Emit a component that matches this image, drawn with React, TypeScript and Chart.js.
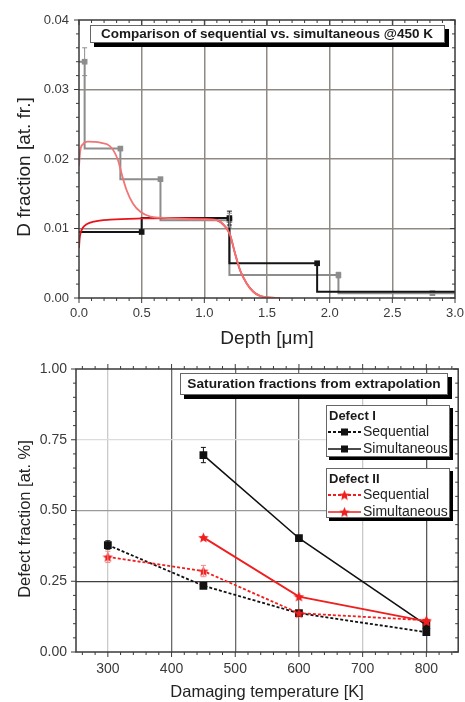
import React, { useEffect, useRef } from "react";
import { Chart, registerables } from "chart.js";
Chart.register(...registerables);

const FONT = "'Liberation Sans', Arial, Helvetica, sans-serif";
Chart.defaults.font.family = FONT;

// ---------- Top chart: D depth profiles @450 K ----------
const seqStepDepth = [0, 0.045, 0.33, 0.65, 1.2, 2.07, 2.82, 3.0];
const seqStepFrac = [0.034, 0.034, 0.0215, 0.0171, 0.0112, 0.0033, 0.0007, 0.0007];
const seqStepErr = [0, 0.002, 0, 0, 0.001, 0.0004, 0, 0];

const simStepDepth = [0, 0.5, 1.2, 1.9, 3.0];
const simStepFrac = [0.0095, 0.0095, 0.0115, 0.005, 0.0009];
const simStepErr = [0, 0, 0.001, 0, 0];

const seqFitDepth = [0, 0.01, 0.03, 0.07, 0.17, 0.25, 0.31, 0.34, 0.38, 0.43, 0.49, 0.57, 0.65, 0.8, 1.0, 1.1, 1.165, 1.205, 1.245, 1.285, 1.338, 1.391, 1.444, 1.5, 1.6];
const seqFitFrac = [0.019, 0.0212, 0.0221, 0.0225, 0.02235, 0.0218, 0.0199, 0.0179, 0.0155, 0.0136, 0.0124, 0.0117, 0.01155, 0.0114, 0.0113, 0.0112, 0.0103, 0.0091, 0.0064, 0.004, 0.0021, 0.0009, 0.0003, 0.0001, 0];

const simFitDepth = [0, 0.005, 0.015, 0.03, 0.06, 0.12, 0.25, 0.5, 0.8, 1.0, 1.1, 1.165, 1.205, 1.245, 1.285, 1.338, 1.391, 1.444, 1.5, 1.6];
const simFitFrac = [0.0072, 0.0085, 0.0095, 0.0101, 0.0106, 0.011, 0.01128, 0.01145, 0.0115, 0.0114, 0.0112, 0.0103, 0.0091, 0.0064, 0.004, 0.0021, 0.0009, 0.0003, 0.0001, 0];

const topTitle = "Comparison of sequential vs. simultaneous @450 K";
const topXTitle = "Depth [μm]";
const topYTitle = "D fraction [at. fr.]";

// ---------- Bottom chart: saturation fractions ----------
const tempTicks = [300, 400, 500, 600, 700, 800];
const tempSeq = [300, 450, 600, 800];
const tempSim = [450, 600, 800];
const defIseq = [0.378, 0.234, 0.137, 0.07];
const defIseqErr = [0.015, 0, 0, 0];
const defIsim = [0.696, 0.402, 0.095];
const defIsimErr = [0.027, 0, 0];
const defIIseq = [0.336, 0.286, 0.137, 0.112];
const defIIseqErr = [0.02, 0.02, 0, 0];
const defIIsim = [0.405, 0.196, 0.108];
const defIIsimErr = [0, 0, 0];

const botTitle = "Saturation fractions from extrapolation";
const botXTitle = "Damaging temperature [K]";
const botYTitle = "Defect fraction [at. %]";
const legendGroups = ["Defect I", "Defect II"];
const legendItems = ["Sequential", "Simultaneous"];

const zip = (xs: number[], ys: number[]) => xs.map((x, i) => ({ x, y: ys[i] }));

function makeStar(size: number, color: string) {
  const c = document.createElement("canvas");
  c.width = size;
  c.height = size;
  const g = c.getContext("2d")!;
  g.fillStyle = color;
  g.beginPath();
  const cx = size / 2, cy = size / 2 + 0.6, R = size / 2, r = R * 0.45;
  for (let i = 0; i < 10; i++) {
    const a = -Math.PI / 2 + (i * Math.PI) / 5;
    const rad = i % 2 ? r : R;
    g.lineTo(cx + rad * Math.cos(a), cy + rad * Math.sin(a));
  }
  g.closePath();
  g.fill();
  return c;
}

const errorBarPlugin = {
  id: "errorBars",
  afterDatasetsDraw(chart: any) {
    const { ctx } = chart;
    const ys = chart.scales.y;
    chart.data.datasets.forEach((ds: any, i: number) => {
      if (!ds.errorBars) return;
      const meta = chart.getDatasetMeta(i);
      ctx.save();
      ctx.strokeStyle = ds.errorColor || ds.borderColor;
      ctx.lineWidth = 1;
      meta.data.forEach((pt: any, j: number) => {
        const e = ds.errorBars[j];
        if (!e) return;
        const v = ds.data[j].y;
        const y1 = ys.getPixelForValue(v + e);
        const y2 = ys.getPixelForValue(v - e);
        ctx.beginPath();
        ctx.moveTo(pt.x, y1);
        ctx.lineTo(pt.x, y2);
        ctx.moveTo(pt.x - 2.5, y1);
        ctx.lineTo(pt.x + 2.5, y1);
        ctx.moveTo(pt.x - 2.5, y2);
        ctx.lineTo(pt.x + 2.5, y2);
        ctx.stroke();
      });
      ctx.restore();
    });
  },
};

const framePlugin = {
  id: "frame",
  afterDatasetsDraw(chart: any, _a: any, o: any) {
    const { ctx, chartArea: a } = chart;
    const xs = chart.scales.x, ys = chart.scales.y;
    ctx.save();
    ctx.strokeStyle = "#3a3a3a";
    ctx.lineWidth = 1.5;
    ctx.strokeRect(a.left, a.top, a.right - a.left, a.bottom - a.top);
    ctx.lineWidth = 1;
    const seg = (x1: number, y1: number, x2: number, y2: number) => {
      ctx.beginPath();
      ctx.moveTo(x1, y1);
      ctx.lineTo(x2, y2);
      ctx.stroke();
    };
    const each = (min: number, max: number, minor: number, major: number, fn: (v: number, big: boolean) => void) => {
      const start = Math.ceil(min / minor - 1e-9);
      const end = Math.floor(max / minor + 1e-9);
      for (let k = start; k <= end; k++) {
        const v = k * minor;
        const r = v / major;
        fn(v, Math.abs(r - Math.round(r)) < 1e-6);
      }
    };
    each(xs.min, xs.max, o.xMinor, o.xMajor, (v, big) => {
      const p = xs.getPixelForValue(v);
      const len = big ? 5 : 3;
      seg(p, a.bottom, p, a.bottom + len);
      seg(p, a.top, p, a.top + o.topDir * len);
    });
    each(ys.min, ys.max, o.yMinor, o.yMajor, (v, big) => {
      const p = ys.getPixelForValue(v);
      const len = big ? 5 : 3;
      seg(a.left, p, a.left - len, p);
      seg(a.right, p, a.right - len, p);
    });
    ctx.restore();
  },
};

function drawBox(ctx: CanvasRenderingContext2D, x0: number, y0: number, x1: number, y1: number, sh: number) {
  ctx.fillStyle = "#000";
  ctx.fillRect(x0 + sh, y0 + sh, x1 - x0, y1 - y0);
  ctx.fillStyle = "#fff";
  ctx.fillRect(x0, y0, x1 - x0, y1 - y0);
  ctx.strokeStyle = "#666";
  ctx.lineWidth = 1;
  ctx.strokeRect(x0 + 0.5, y0 + 0.5, x1 - x0 - 1, y1 - y0 - 1);
}

function drawYTitle(ctx: CanvasRenderingContext2D, text: string, x: number, y: number, size: number) {
  ctx.save();
  ctx.translate(x, y);
  ctx.rotate(-Math.PI / 2);
  ctx.fillStyle = "#222";
  ctx.font = `${size}px ${FONT}`;
  ctx.textAlign = "center";
  ctx.textBaseline = "middle";
  ctx.fillText(text, 0, 0);
  ctx.restore();
}

const topDecor = {
  id: "topDecor",
  afterDraw(chart: any) {
    const ctx = chart.ctx as CanvasRenderingContext2D;
    ctx.save();
    drawBox(ctx, 90, 25, 445, 43, 4);
    ctx.fillStyle = "#1a1a1a";
    ctx.font = `bold 13.5px ${FONT}`;
    ctx.textAlign = "center";
    ctx.textBaseline = "middle";
    ctx.fillText(topTitle, 267, 34.5);
    ctx.restore();
    drawYTitle(ctx, topYTitle, 25, 167, 19);
  },
};

function makeBottomDecor(star: HTMLCanvasElement) {
  return {
    id: "botDecor",
    afterDraw(chart: any) {
      const ctx = chart.ctx as CanvasRenderingContext2D;
      ctx.save();
      drawBox(ctx, 180, 23, 448, 45, 4);
      ctx.fillStyle = "#1a1a1a";
      ctx.font = `bold 13.7px ${FONT}`;
      ctx.textAlign = "center";
      ctx.textBaseline = "middle";
      ctx.fillText(botTitle, 314, 34.5);

      const groups = [
        { top: 55, bottom: 107, color: "#111", marker: "rect" },
        { top: 118, bottom: 168, color: "#f01e1e", marker: "star" },
      ];
      groups.forEach((g, gi) => {
        drawBox(ctx, 326, g.top, 450, g.bottom, 3);
        ctx.fillStyle = "#1a1a1a";
        ctx.font = `bold 13px ${FONT}`;
        ctx.textAlign = "left";
        ctx.textBaseline = "middle";
        ctx.fillText(legendGroups[gi], 329, g.top + 11);
        legendItems.forEach((lab, li) => {
          const y = g.top + 27 + li * 17;
          ctx.strokeStyle = g.color;
          ctx.lineWidth = li === 0 ? 1.8 : 1.6;
          ctx.setLineDash(li === 0 ? [3, 2] : []);
          ctx.beginPath();
          ctx.moveTo(328, y);
          ctx.lineTo(361, y);
          ctx.stroke();
          ctx.setLineDash([]);
          if (g.marker === "rect") {
            ctx.fillStyle = g.color;
            ctx.fillRect(341, y - 3.5, 7, 7);
          } else {
            ctx.drawImage(star, 344.5 - star.width / 2, y - star.height / 2);
          }
          ctx.fillStyle = "#222";
          ctx.font = `14px ${FONT}`;
          ctx.textAlign = "left";
          ctx.fillText(lab, 363, y + 0.5);
        });
      });
      ctx.restore();
      drawYTitle(ctx, botYTitle, 25, 169, 16.5);
    },
  };
}

const noPad = (s: any) => {
  s.paddingLeft = 0;
  s.paddingRight = 0;
};

function topConfig(): any {
  const endR = (r: number) => (c: any) =>
    c.dataIndex === 0 || c.dataIndex === c.dataset.data.length - 1 ? 0 : r;
  const gridCol = (max: number) => (c: any) =>
    c.tick && (Math.abs(c.tick.value) < 1e-9 || Math.abs(c.tick.value - max) < 1e-9) ? "rgba(0,0,0,0)" : "#8f8983";
  return {
    type: "line",
    data: {
      datasets: [
        { data: zip(seqFitDepth, seqFitFrac), borderColor: "#f27474", borderWidth: 1.8, pointRadius: 0, cubicInterpolationMode: "monotone" },
        { data: zip(simFitDepth, simFitFrac), borderColor: "#e8141b", borderWidth: 1.8, pointRadius: 0, cubicInterpolationMode: "monotone" },
        {
          data: zip(simStepDepth, simStepFrac), stepped: "after", borderColor: "#141414", borderWidth: 2,
          pointStyle: "rect", pointRadius: endR(4), pointBackgroundColor: "#141414", pointBorderWidth: 0,
          errorBars: simStepErr,
        },
        {
          data: zip(seqStepDepth, seqStepFrac), stepped: "after", borderColor: "#8d8d8d", borderWidth: 2,
          pointStyle: "rect", pointRadius: endR(4), pointBackgroundColor: "#8d8d8d", pointBorderWidth: 0,
          errorBars: seqStepErr,
        },
      ],
    },
    options: {
      animation: false,
      responsive: false,
      devicePixelRatio: 1,
      layout: { padding: { top: 20, right: 10, left: 0, bottom: 0 } },
      plugins: {
        legend: { display: false },
        tooltip: { enabled: false },
        frame: { xMinor: 0.1, xMajor: 0.5, yMinor: 0.002, yMajor: 0.01, topDir: 1 },
      },
      scales: {
        x: {
          type: "linear", min: 0, max: 3,
          border: { display: false },
          grid: { drawTicks: false, color: gridCol(3), lineWidth: 1.5 },
          ticks: { stepSize: 0.5, padding: 8, color: "#3a3a3a", font: { size: 13 }, callback: (v: any) => Number(v).toFixed(1), maxRotation: 0 },
          title: { display: true, text: topXTitle, color: "#222", font: { size: 19 }, padding: { top: 0, bottom: 0 } },
          afterFit: (s: any) => { s.height = 52; noPad(s); },
        },
        y: {
          type: "linear", min: 0, max: 0.04,
          border: { display: false },
          grid: { drawTicks: false, color: gridCol(0.04), lineWidth: 1.5 },
          ticks: { stepSize: 0.01, padding: 10, color: "#3a3a3a", font: { size: 13 }, callback: (v: any) => Number(v).toFixed(2) },
          afterFit: (s: any) => { s.width = 79; },
        },
      },
    },
    plugins: [framePlugin, errorBarPlugin, topDecor],
  };
}

function bottomConfig(): any {
  const star = makeStar(11, "#f01e1e");
  const xGrid = (c: any) => {
    const v = c.tick ? c.tick.value : 0;
    if (v === 400 || v === 500) return "#6a6a6a";
    if (v === 600) return "#6f6f6f";
    if (v === 800) return "#5a5a5a";
    if (v === 300 || v === 700) return "#cacaca";
    return "rgba(0,0,0,0)";
  };
  const yGrid = (c: any) => {
    const v = c.tick ? c.tick.value : 0;
    if (Math.abs(v - 0.25) < 1e-6) return "#3f3f3f";
    if (Math.abs(v - 0.5) < 1e-6) return "#9a9a9a";
    if (Math.abs(v - 0.75) < 1e-6) return "#dcdcdc";
    return "rgba(0,0,0,0)";
  };
  return {
    type: "line",
    data: {
      datasets: [
        { data: zip(tempSim, defIIsim), borderColor: "#f01e1e", borderWidth: 1.8, pointStyle: star, pointRadius: 5, errorBars: defIIsimErr },
        { data: zip(tempSeq, defIIseq), borderColor: "#f01e1e", borderWidth: 1.8, borderDash: [3, 2], pointStyle: star, pointRadius: 5, errorBars: defIIseqErr, errorColor: "#f48a8a" },
        { data: zip(tempSim, defIsim), borderColor: "#111", borderWidth: 1.6, pointStyle: "rect", pointRadius: 5.5, pointBackgroundColor: "#111", pointBorderWidth: 0, errorBars: defIsimErr },
        { data: zip(tempSeq, defIseq), borderColor: "#111", borderWidth: 1.8, borderDash: [3, 2], pointStyle: "rect", pointRadius: 5.5, pointBackgroundColor: "#111", pointBorderWidth: 0, errorBars: defIseqErr },
      ],
    },
    options: {
      animation: false,
      responsive: false,
      devicePixelRatio: 1,
      layout: { padding: { top: 19, right: 4, left: 0, bottom: 0 } },
      plugins: {
        legend: { display: false },
        tooltip: { enabled: false },
        frame: { xMinor: 20, xMajor: 100, yMinor: 0.05, yMajor: 0.25, topDir: -1 },
      },
      scales: {
        x: {
          type: "linear", min: 250, max: 850,
          border: { display: false },
          grid: { drawTicks: false, color: xGrid, lineWidth: 1.3 },
          afterBuildTicks: (s: any) => { s.ticks = tempTicks.map((value) => ({ value })); },
          ticks: { padding: 9, color: "#3a3a3a", font: { size: 14 }, callback: (v: any) => String(v), maxRotation: 0 },
          title: { display: true, text: botXTitle, color: "#222", font: { size: 16.5 }, padding: { top: 0, bottom: 0 } },
          afterFit: (s: any) => { s.height = 50; noPad(s); },
        },
        y: {
          type: "linear", min: 0, max: 1,
          border: { display: false },
          grid: { drawTicks: false, color: yGrid, lineWidth: 1.3 },
          ticks: { stepSize: 0.25, padding: 9, color: "#3a3a3a", font: { size: 14 }, callback: (v: any) => Number(v).toFixed(2) },
          afterFit: (s: any) => { s.width = 76; },
        },
      },
    },
    plugins: [framePlugin, errorBarPlugin, makeBottomDecor(star)],
  };
}

export default function App() {
  const topRef = useRef<HTMLCanvasElement>(null);
  const botRef = useRef<HTMLCanvasElement>(null);
  useEffect(() => {
    const c1 = new Chart(topRef.current!, topConfig());
    const c2 = new Chart(botRef.current!, bottomConfig());
    return () => {
      c1.destroy();
      c2.destroy();
    };
  }, []);
  return (
    <div style={{ position: "absolute", left: 0, top: 0, width: 465, height: 702, background: "#fff", overflow: "hidden" }}>
      <canvas ref={topRef} width={465} height={350} style={{ position: "absolute", left: 0, top: 0, width: 465, height: 350 }} />
      <canvas ref={botRef} width={465} height={352} style={{ position: "absolute", left: 0, top: 350, width: 465, height: 352 }} />
    </div>
  );
}
